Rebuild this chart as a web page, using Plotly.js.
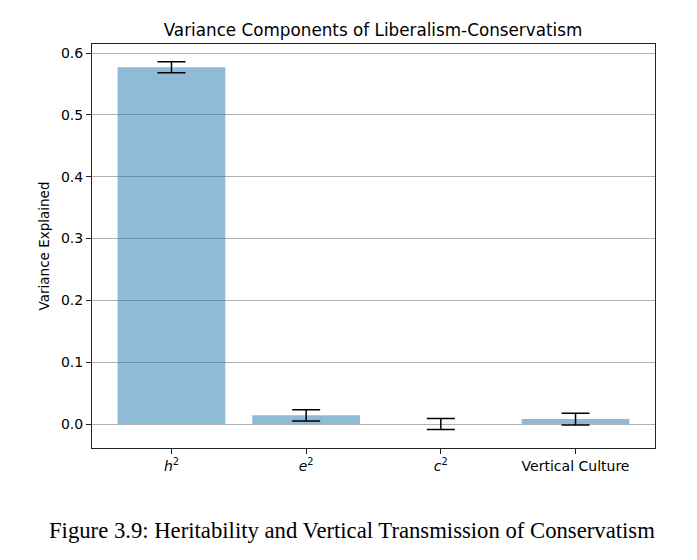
<!DOCTYPE html>
<html>
<head>
<meta charset="utf-8">
<script src="https://cdn.plot.ly/plotly-3.0.1.min.js"></script>
<style>
  html, body { margin: 0; padding: 0; background: #fff; }
  #chart { width: 697px; height: 560px; }
</style>
</head>
<body>
<div id="chart"></div>
<script>
// variance components
const components = ['<i>h</i><sup>2</sup>', '<i>e</i><sup>2</sup>', '<i>c</i><sup>2</sup>', 'Vertical Culture'];
const varianceExplained = [0.577, 0.014, 0.0, 0.008];
const standardErrors = [0.009, 0.009, 0.009, 0.0095];
const yTicks = [0.0, 0.1, 0.2, 0.3, 0.4, 0.5, 0.6];

const FONT = 'DejaVu Sans, sans-serif';

const data = [{
    type: 'bar',
    x: components,
    y: varianceExplained,
    width: 0.8,
    marker: {
        color: 'rgba(31,119,180,0.5)',
        line: {width: 0}
    },
    error_y: {
        type: 'data',
        array: standardErrors,
        visible: true,
        color: '#000',
        thickness: 1.5,
        width: 14
    },
    hoverinfo: 'skip'
}];

const layout = {
    width: 697,
    height: 560,
    margin: {l: 92, r: 42, t: 44, b: 112},
    paper_bgcolor: '#fff',
    plot_bgcolor: '#fff',
    showlegend: false,
    font: {family: FONT, color: '#000', size: 14},
    title: {
        text: 'Variance Components of Liberalism-Conservatism',
        font: {family: FONT, size: 16.8, color: '#000'},
        x: 373 / 697,
        xanchor: 'center',
        xref: 'container',
        y: 1 - 30 / 560,
        yanchor: 'middle',
        yref: 'container'
    },
    xaxis: {
        type: 'category',
        range: [-0.59, 3.59],
        showgrid: false,
        zeroline: false,
        showline: true,
        mirror: true,
        linecolor: '#222',
        linewidth: 1,
        ticks: 'outside',
        ticklen: 5,
        tickwidth: 1,
        tickcolor: '#222',
        tickfont: {family: FONT, size: 14, color: '#000'},
        fixedrange: true
    },
    yaxis: {
        range: [-0.0388, 0.6146],
        tickvals: yTicks,
        tickformat: '.1f',
        showgrid: true,
        gridcolor: '#b0b0b0',
        gridwidth: 1,
        zeroline: false,
        showline: true,
        mirror: true,
        linecolor: '#222',
        linewidth: 1,
        ticks: 'outside',
        ticklen: 5,
        tickwidth: 1,
        tickcolor: '#222',
        tickfont: {family: FONT, size: 14, color: '#000'},
        title: {
            text: 'Variance Explained',
            font: {family: FONT, size: 13.5, color: '#000'},
            standoff: 8
        },
        fixedrange: true
    },
    annotations: [{
        text: 'Figure 3.9: Heritability and Vertical Transmission of Conservatism',
        xref: 'paper',
        yref: 'paper',
        x: (351.5 - 92) / 563,
        y: -(530 - 448) / 404,
        xanchor: 'center',
        yanchor: 'middle',
        showarrow: false,
        font: {family: 'Liberation Serif, serif', size: 22.7, color: '#000'}
    }]
};

Plotly.newPlot('chart', data, layout, {displayModeBar: false, staticPlot: true});
</script>
</body>
</html>
